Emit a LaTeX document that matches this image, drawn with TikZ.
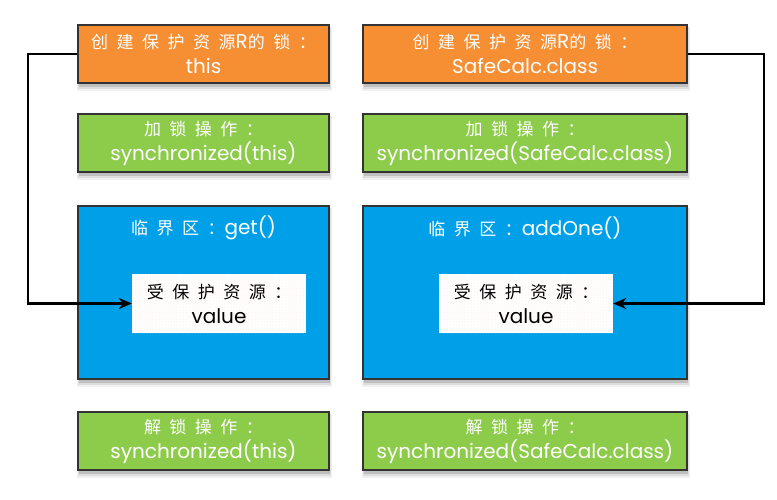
\documentclass[tikz,border=0pt]{standalone}
\usepackage{fontspec}
\setmainfont{Poppins}
\newfontfamily\cjk[LetterSpace=50]{Noto Sans CJK SC}
\usetikzlibrary{patterns,arrows.meta}
\definecolor{orng}{HTML}{F68E34}
\definecolor{grn}{HTML}{8DCB4B}
\definecolor{blu}{HTML}{00A0E9}
\definecolor{edge}{HTML}{333333}
\newcommand{\zh}[1]{{\fontsize{17}{25}\cjk #1}}
\begin{document}
\begin{tikzpicture}[x=1pt,y=-1pt,
  box/.style={draw=edge,line width=1.5pt,align=center,text=white,inner sep=0pt,
    font=\fontsize{20}{25}\selectfont},
  orbox/.style={box,fill=orng},
  grbox/.style={box,fill=grn},
  blbox/.style={box,fill=blu},
  resbox/.style={align=center,inner sep=0pt,text=black,font=\fontsize{20}{25}\selectfont,
    preaction={fill=white},pattern=dots,pattern color=red!15},
  link/.style={line width=2.4pt,draw=black,-{Stealth[length=13pt,width=11pt]}}]
\useasboundingbox (0,0) rectangle (777,499);
% soft shadows (drawn first, beneath the boxes)
\foreach \xa/\xb in {78/329,363/687}{
  \foreach \ya/\yb in {25/83,114/172,206/379,412/470}{
    \fill[black!6] (\xa-1,\ya+2) rectangle (\xb+3,\yb+8);
    \fill[black!13] (\xa,\ya+2) rectangle (\xb+2,\yb+6);
    \fill[black!25] (\xa+1,\ya+2) rectangle (\xb+1,\yb+4);
  }
}
% left column
\node[orbox,minimum width=251pt,minimum height=58pt] (oL) at (203.5,54) {\zh{创建保护资源}R\zh{的锁：}\\this};
\node[grbox,minimum width=251pt,minimum height=58pt] (gL) at (203.5,143) {\zh{加锁操作：}\\synchronized(this)};
\node[blbox,minimum width=251pt,minimum height=173pt] (bL) at (203.5,292.5) {};
\node[text=white,font=\fontsize{20}{25}\selectfont] (tL) at (203.5,228) {\zh{临界区：}get()};
\node[resbox,minimum width=174pt,minimum height=59pt] (rL) at (219,303.5) {\zh{受保护资源：}\\value};
\node[grbox,minimum width=251pt,minimum height=58pt] (uL) at (203.5,441) {\zh{解锁操作：}\\synchronized(this)};
% right column
\node[orbox,minimum width=324pt,minimum height=58pt] (oR) at (525,54) {\zh{创建保护资源}R\zh{的锁：}\\SafeCalc.class};
\node[grbox,minimum width=324pt,minimum height=58pt] (gR) at (525,143) {\zh{加锁操作：}\\synchronized(SafeCalc.class)};
\node[blbox,minimum width=324pt,minimum height=173pt] (bR) at (525,292.5) {};
\node[text=white,font=\fontsize{20}{25}\selectfont] (tR) at (525,228) {\zh{临界区：}addOne()};
\node[resbox,minimum width=174pt,minimum height=59pt] (rR) at (526,303.5) {\zh{受保护资源：}\\value};
\node[grbox,minimum width=324pt,minimum height=58pt] (uR) at (525,441) {\zh{解锁操作：}\\synchronized(SafeCalc.class)};
% connectors
\draw[link] (oL.west) -- ++(-49,0) |- (rL.west);
\draw[link] (oR.east) -- ++(76,0) |- (rR.east);
\end{tikzpicture}
\end{document}
